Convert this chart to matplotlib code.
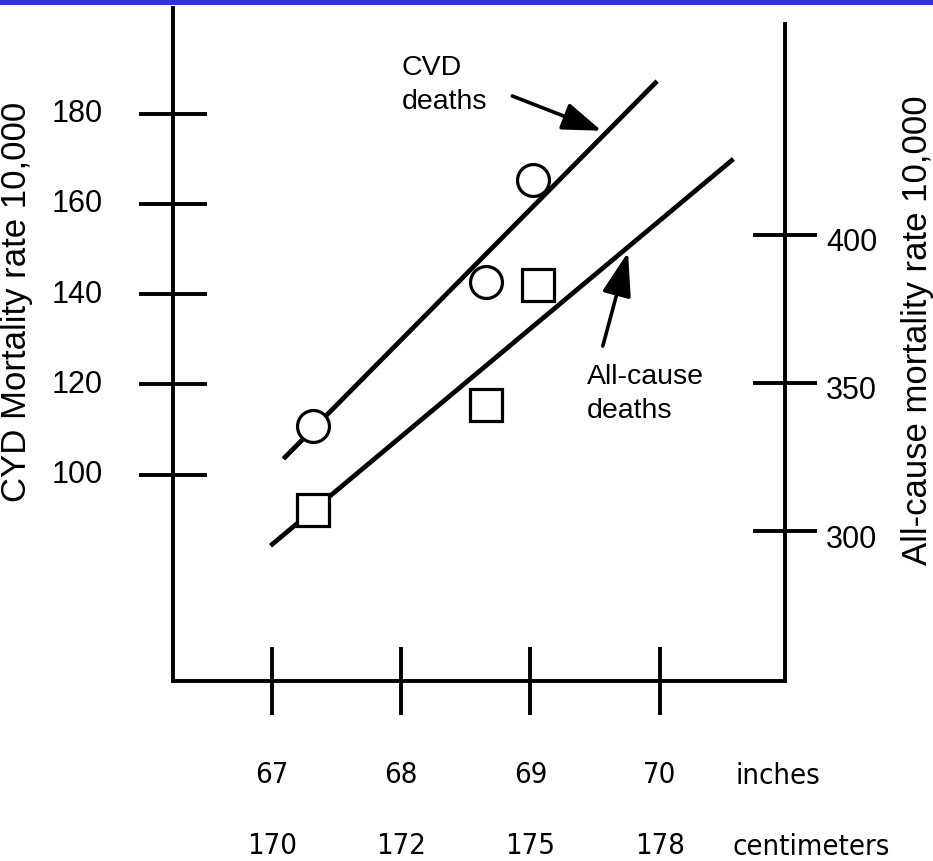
import matplotlib
matplotlib.use("Agg")
import matplotlib.pyplot as plt
from matplotlib import font_manager
from matplotlib.font_manager import FontProperties
from matplotlib.patches import Rectangle
from matplotlib.transforms import ScaledTranslation

# ---------------- data ----------------
inch_ticks = [67, 68, 69, 70]
inch_labels = ["67", "68", "69", "70"]
cm_labels = ["170", "172", "175", "178"]
cvd_ticks = [100, 120, 140, 160, 180]
all_ticks = [300, 350, 400]

cvd_height = [67.32, 68.66, 69.02]      # inches (circles)
cvd_rate = [110.8, 142.6, 165.2]        # CVD mortality per 10,000
all_height = [67.32, 68.66, 69.06]      # inches (squares)
all_rate = [307.3, 342.6, 382.9]        # all-cause mortality per 10,000

cvd_fit_x = [67.09, 69.98]
cvd_fit_y = [103.5, 187.2]
all_fit_x = [66.99, 70.57]
all_fit_y = [295.1, 425.5]

# ---------------- fonts ----------------
base_font = ["Liberation Sans", "DejaVu Sans"]
plt.rcParams["font.family"] = base_font


def find_narrow():
    prefs = ["Liberation Sans Narrow", "Arial Narrow", "DejaVu Sans",
             "Roboto", "Open Sans", "Noto Sans", "Lato", "Inter"]
    cands = []
    for f in font_manager.fontManager.ttflist:
        st = str(f.stretch).lower()
        narrow = ("narrow" in f.name.lower() or "condensed" in st
                  or "condensed" in f.fname.lower() or "narrow" in f.fname.lower())
        if not narrow or "mono" in f.name.lower():
            continue
        low = f.fname.lower()
        if any(k in low for k in ("bold", "italic", "oblique", "light", "semi", "extra")):
            continue
        if f.weight not in (400, "normal", "regular", "book"):
            continue
        for i, p in enumerate(prefs):
            if f.name.startswith(p):
                cands.append((i, f.fname))
                break
    if cands:
        cands.sort()
        return cands[0][1]
    return None


narrow_path = find_narrow()
if narrow_path is not None:
    def nfp(size):
        return FontProperties(fname=narrow_path, size=size)
    narrow_size = 21
else:
    def nfp(size):
        return FontProperties(family="Liberation Sans", size=size)
    narrow_size = 20

W, H = 933, 862
fig = plt.figure(figsize=(W / 100, H / 100), dpi=100)
fig.patch.set_facecolor("white")
fig.patches.append(Rectangle((0, 1 - 6 / H), 1, 6 / H, transform=fig.transFigure,
                             facecolor="#3434c8", edgecolor="none"))

L, R, B, T = 173, 785, 682, 9
ax = fig.add_axes([L / W, 1 - B / H, (R - L) / W, (B - T) / H])
ax.set_xlim(66.236, 70.969)
ax.set_ylim(54.28, 203.4)
ax.patch.set_visible(False)

lw_axis = 2.8
for s in ["top", "right"]:
    ax.spines[s].set_visible(False)
for s in ["left", "bottom"]:
    ax.spines[s].set_linewidth(lw_axis)

ax.set_yticks(cvd_ticks)
ax.set_yticklabels([str(v) for v in cvd_ticks])
ax.tick_params(axis="y", direction="inout", length=49, width=lw_axis, pad=26,
               labelsize=22)
ax.set_xticks(inch_ticks)
ax.set_xticklabels(inch_labels)
ax.tick_params(axis="x", direction="inout", length=49, width=lw_axis, pad=32.5)
for lbl in ax.get_xticklabels():
    lbl.set_fontproperties(nfp(narrow_size))
for lbl in ax.get_yticklabels():
    lbl.set_transform(lbl.get_transform() + ScaledTranslation(0, 4 / 100, fig.dpi_scale_trans))

sec = ax.secondary_xaxis("bottom")
sec.set_xticks(inch_ticks)
sec.set_xticklabels(cm_labels)
sec.tick_params(axis="x", length=0, pad=108)
sec.spines["bottom"].set_visible(False)
for lbl in sec.get_xticklabels():
    lbl.set_fontproperties(nfp(narrow_size))

# right axis
tw = ax.twinx()
tw.set_ylim(249.5, 476.4)
for s in ["top", "left", "bottom"]:
    tw.spines[s].set_visible(False)
tw.spines["right"].set_linewidth(lw_axis)
tw.spines["right"].set_bounds(249.5, 471.0)
tw.set_yticks(all_ticks)
tw.set_yticklabels([str(v) for v in all_ticks])
tw.tick_params(axis="y", direction="inout", length=46, width=lw_axis, pad=6.5,
               labelsize=22)
for lbl in tw.get_yticklabels():
    lbl.set_transform(lbl.get_transform() + ScaledTranslation(0, -4 / 100, fig.dpi_scale_trans))

# lines and markers
ax.plot(cvd_fit_x, cvd_fit_y, color="black", lw=3.4, solid_capstyle="butt", zorder=2)
ax.plot(cvd_height, cvd_rate, linestyle="none", marker="o", ms=23, mew=2.3,
        mec="black", mfc="white", zorder=3)
tw.plot(all_fit_x, all_fit_y, color="black", lw=3.4, solid_capstyle="butt", zorder=2)
tw.plot(all_height, all_rate, linestyle="none", marker="s", ms=22.5, mew=2.3,
        mec="black", mfc="white", zorder=3)

# annotations
ax.text(68.007, 193.2, "CVD\ndeaths", ha="left", va="top", fontsize=20.5,
        linespacing=1.4)
ax.annotate("", xy=(69.55, 176.2), xytext=(68.86, 183.9),
            arrowprops=dict(arrowstyle="-|>,head_length=2.4,head_width=0.85",
                            mutation_scale=10, lw=2.6, color="black",
                            shrinkA=0, shrinkB=0))
ax.text(69.438, 124.7, "All-cause\ndeaths", ha="left", va="top", fontsize=20.5,
        linespacing=1.4)
ax.annotate("", xy=(69.755, 149.3), xytext=(69.56, 128.5),
            arrowprops=dict(arrowstyle="-|>,head_length=2.7,head_width=0.9",
                            mutation_scale=10, lw=2.6, color="black",
                            shrinkA=0, shrinkB=0))

# axis titles and unit labels
fig.text(17 / W, 1 - 302 / H, "CYD Mortality rate 10,000", rotation=90,
         ha="center", va="center", fontsize=25)
fig.text(918 / W, 1 - 330 / H, "All-cause mortality rate 10,000", rotation=90,
         ha="center", va="center", fontsize=25)
fig.text(735 / W, 1 - 784 / H, "inches", ha="left", va="baseline",
         fontproperties=nfp(narrow_size))
fig.text(732 / W, 1 - 861 / H, "centimeters", ha="left", va="bottom",
         fontproperties=nfp(narrow_size))

fig.savefig("out.png", dpi=100, facecolor="white")
